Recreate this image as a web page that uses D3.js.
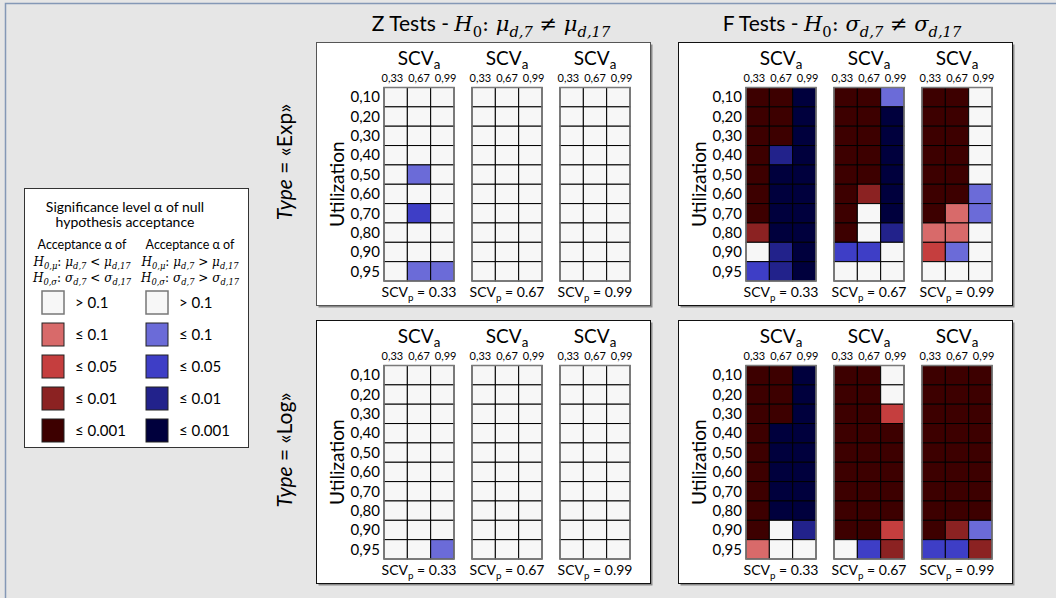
<!DOCTYPE html>
<html>
<head>
<meta charset="utf-8">
<script src="https://cdn.jsdelivr.net/npm/d3@7"></script>
<style>
  body { margin: 0; background: #e6e6e6; }
  svg { display: block; font-family: Lato, "Open Sans", sans-serif; }
</style>
</head>
<body>
<div id="wrapper"></div>
<script>
// data
const utilization = ['0,10', '0,20', '0,30', '0,40', '0,50', '0,60', '0,70', '0,80', '0,90', '0,95'];
const scvA = ['0,33', '0,67', '0,99'];
const scvP = ['0.33', '0.67', '0.99'];
const levelLabels = ['> 0.1', '≤ 0.1', '≤ 0.05', '≤ 0.01', '≤ 0.001'];
const redColors = ['#f7f7f7', '#d86a6a', '#c53e3e', '#8b2222', '#3d0000'];
const blueColors = ['#f7f7f7', '#6b6bd8', '#3e3ec6', '#22228b', '#00003d'];

// codes: 0 = > 0.1, +n = red level n, -n = blue level n
const zExp = [
  [[0, 0, 0], [0, 0, 0], [0, 0, 0], [0, 0, 0], [0, -1, 0], [0, 0, 0], [0, -2, 0], [0, 0, 0], [0, 0, 0], [0, -1, -1]],
  [[0, 0, 0], [0, 0, 0], [0, 0, 0], [0, 0, 0], [0, 0, 0], [0, 0, 0], [0, 0, 0], [0, 0, 0], [0, 0, 0], [0, 0, 0]],
  [[0, 0, 0], [0, 0, 0], [0, 0, 0], [0, 0, 0], [0, 0, 0], [0, 0, 0], [0, 0, 0], [0, 0, 0], [0, 0, 0], [0, 0, 0]],
];
const fExp = [
  [[4, 4, -4], [4, 4, -4], [4, 4, -4], [4, -3, -4], [4, -4, -4], [4, -4, -4], [4, -4, -4], [3, -4, -4], [0, -3, -4], [-2, -3, -4]],
  [[4, 4, -1], [4, 4, -4], [4, 4, -4], [4, 4, -4], [4, 4, -4], [4, 3, -4], [4, 0, -4], [4, 0, -3], [-2, -2, 0], [0, 0, 0]],
  [[4, 4, 0], [4, 4, 0], [4, 4, 0], [4, 4, 0], [4, 4, 0], [4, 4, -1], [4, 1, -1], [1, 1, 0], [2, -1, 0], [0, 0, 0]],
];
const zLog = [
  [[0, 0, 0], [0, 0, 0], [0, 0, 0], [0, 0, 0], [0, 0, 0], [0, 0, 0], [0, 0, 0], [0, 0, 0], [0, 0, 0], [0, 0, -1]],
  [[0, 0, 0], [0, 0, 0], [0, 0, 0], [0, 0, 0], [0, 0, 0], [0, 0, 0], [0, 0, 0], [0, 0, 0], [0, 0, 0], [0, 0, 0]],
  [[0, 0, 0], [0, 0, 0], [0, 0, 0], [0, 0, 0], [0, 0, 0], [0, 0, 0], [0, 0, 0], [0, 0, 0], [0, 0, 0], [0, 0, 0]],
];
const fLog = [
  [[4, 4, -4], [4, 4, -4], [4, 4, -4], [4, -4, -4], [4, -4, -4], [4, -4, -4], [4, -4, -4], [4, -4, -4], [4, 0, -3], [1, 0, 0]],
  [[4, 4, 0], [4, 4, 0], [4, 4, 2], [4, 4, 4], [4, 4, 4], [4, 4, 4], [4, 4, 4], [4, 4, 4], [4, 4, 2], [0, -2, 3]],
  [[4, 4, 4], [4, 4, 4], [4, 4, 4], [4, 4, 4], [4, 4, 4], [4, 4, 4], [4, 4, 4], [4, 4, 4], [4, 3, -1], [-2, -2, 3]],
];

const colorOf = code => code >= 0 ? redColors[code] : blueColors[-code];

const width = 1056, height = 598;
const sansFont = 'Lato, "Open Sans", sans-serif';
const mathFont = '"DejaVu Serif", "Liberation Serif", serif';

const svg = d3.select('#wrapper').append('svg')
  .attr('width', width)
  .attr('height', height);

svg.append('rect').attr('width', width).attr('height', height).attr('fill', '#e6e6e6');
svg.append('path')
  .attr('d', `M5.5,${height} V3.5 H${width}`)
  .attr('fill', 'none')
  .attr('stroke', '#8498b6')
  .attr('stroke-width', 1.5);

// rich text helper: parts = [text, style] ; 'n' sans, 'm' math italic, 'u' upright, 's' subscript
function richText(g, x, y, parts, size, subShift) {
  const shift = size * (subShift || 0.3);
  const t = g.append('text')
    .attr('x', x).attr('y', y)
    .attr('text-anchor', 'middle')
    .style('font-size', size + 'px');
  let inSub = false;
  parts.forEach(([txt, st]) => {
    const sp = t.append('tspan').text(txt);
    const sub = st.indexOf('s') >= 0;
    if (sub && !inSub) sp.attr('dy', shift);
    if (!sub && inSub) sp.attr('dy', -shift);
    inSub = sub;
    sp.style('font-size', (sub ? size * 0.7 : size) + 'px');
    if (st[0] === 'm') {
      sp.style('font-family', mathFont);
      if (st.indexOf('u') < 0) sp.style('font-style', 'italic');
    } else {
      sp.style('font-family', sansFont);
    }
  });
  return t;
}

// titles
richText(svg, 491, 31, [['Z Tests - ', 'n'], ['H', 'm'], ['0', 'mus'], [': ', 'mu'], ['μ', 'm'], ['d,7', 'ms'],
  [' ≠ ', 'mu'], ['μ', 'm'], ['d,17', 'ms']], 21);
richText(svg, 842, 31, [['F Tests - ', 'n'], ['H', 'm'], ['0', 'mus'], [': ', 'mu'], ['σ', 'm'], ['d,7', 'ms'],
  [' ≠ ', 'mu'], ['σ', 'm'], ['d,17', 'ms']], 21);

// type labels
[['Exp', 162], ['Log', 450]].forEach(([name, cy]) => {
  const t = svg.append('text')
    .attr('transform', `translate(292,${cy}) rotate(-90)`)
    .attr('text-anchor', 'middle')
    .style('font-size', '21px');
  t.append('tspan').style('font-style', 'italic').text('Type');
  t.append('tspan').text(' = «' + name + '»');
});

// panels
const panels = [
  { data: zExp, x: 316, y: 42, border: '#555' },
  { data: fExp, x: 678, y: 42, border: '#111' },
  { data: zLog, x: 316, y: 320, border: '#111' },
  { data: fLog, x: 678, y: 320, border: '#111' },
];
const panelW = 334, panelH = 263;
const gridW = 70, gridH = 193.5;
const gridOffsets = [68, 156, 244];

const xScale = d3.scaleBand().domain(scvA).range([0, gridW]);
const xLabelScale = d3.scaleBand().domain(scvA).range([-5, gridW + 5]);
const yScale = d3.scaleBand().domain(utilization).range([0, gridH]);

panels.forEach(p => {
  const pg = svg.append('g').attr('transform', `translate(${p.x},${p.y})`);
  pg.append('rect')
    .attr('x', 2.5).attr('y', 2.5)
    .attr('width', panelW).attr('height', panelH)
    .attr('fill', '#8a8a8a');
  pg.append('rect')
    .attr('x', 0.5).attr('y', 0.5)
    .attr('width', panelW).attr('height', panelH)
    .attr('fill', '#fff')
    .attr('stroke', p.border)
    .attr('stroke-width', 1);

  const gridTop = 45.5;
  // utilization axis label
  pg.append('text')
    .attr('transform', `translate(28,${gridTop + gridH / 2}) rotate(-90)`)
    .attr('text-anchor', 'middle')
    .style('font-size', '19px')
    .text('Utilization');

  p.data.forEach((grid, gi) => {
    const gx = gridOffsets[gi];
    const g = pg.append('g').attr('transform', `translate(${gx},${gridTop})`);

    // row labels only for first grid
    if (gi === 0) {
      g.selectAll('.rowLabel')
        .data(utilization)
        .join('text')
        .attr('class', 'rowLabel')
        .attr('x', -4)
        .attr('y', d => yScale(d) + yScale.bandwidth() / 2)
        .attr('dy', '0.35em')
        .attr('text-anchor', 'end')
        .style('font-size', '15px')
        .text(d => d);
    }

    // SCVa header
    richText(g, gridW / 2, -23, [['SCV', 'n'], ['a', 'ns']], 19, 0.22);
    g.selectAll('.colLabel')
      .data(scvA)
      .join('text')
      .attr('class', 'colLabel')
      .attr('x', d => xLabelScale(d) + xLabelScale.bandwidth() / 2)
      .attr('y', -6)
      .attr('text-anchor', 'middle')
      .style('font-size', '11px')
      .text(d => d);

    const cells = [];
    grid.forEach((row, ri) => row.forEach((code, ci) => {
      cells.push({ u: utilization[ri], a: scvA[ci], code });
    }));
    g.selectAll('.cell')
      .data(cells)
      .join('rect')
      .attr('class', 'cell')
      .attr('x', d => xScale(d.a))
      .attr('y', d => yScale(d.u))
      .attr('width', xScale.bandwidth())
      .attr('height', yScale.bandwidth())
      .attr('fill', d => colorOf(d.code))
      .attr('stroke', '#000')
      .attr('stroke-width', 1);
    g.append('rect')
      .attr('width', gridW).attr('height', gridH)
      .attr('fill', 'none')
      .attr('stroke', '#7a7a7a')
      .attr('stroke-width', 1.5);

    // SCVp footer
    richText(g, gridW / 2, gridH + 16, [['SCV', 'n'], ['p', 'ns'], [' = ' + scvP[gi], 'n']], 14);
  });
});

// legend
const lg = svg.append('g').attr('transform', 'translate(24,188)');
lg.append('rect')
  .attr('x', 0.5).attr('y', 0.5)
  .attr('width', 224).attr('height', 259)
  .attr('fill', '#fff')
  .attr('stroke', '#333');
lg.append('text').attr('x', 101).attr('y', 24).attr('text-anchor', 'middle')
  .style('font-size', '14px').text('Significance level α of null');
lg.append('text').attr('x', 101).attr('y', 39).attr('text-anchor', 'middle')
  .style('font-size', '14px').text('hypothesis acceptance');

const legCols = [
  { cx: 58, sx: 18, colors: redColors, op: '<' },
  { cx: 166, sx: 122, colors: blueColors, op: '>' },
];
legCols.forEach(c => {
  lg.append('text').attr('x', c.cx).attr('y', 61).attr('text-anchor', 'middle')
    .style('font-size', '12.5px').text('Acceptance α of');
  richText(lg, c.cx, 78, [['H', 'm'], ['0,μ', 'ms'], [': ', 'mu'], ['μ', 'm'], ['d,7', 'ms'],
    [' ' + c.op + ' ', 'mu'], ['μ', 'm'], ['d,17', 'ms']], 12, 0.25);
  richText(lg, c.cx, 94, [['H', 'm'], ['0,σ', 'ms'], [': ', 'mu'], ['σ', 'm'], ['d,7', 'ms'],
    [' ' + c.op + ' ', 'mu'], ['σ', 'm'], ['d,17', 'ms']], 12, 0.25);

  const items = levelLabels.map((l, i) => ({ l, color: c.colors[i], i }));
  const rowY = d3.scaleBand().domain(d3.range(levelLabels.length)).range([99, 259]);
  lg.selectAll(null)
    .data(items)
    .join('rect')
    .attr('x', c.sx)
    .attr('y', d => rowY(d.i) + 4)
    .attr('width', 22)
    .attr('height', 23)
    .attr('fill', d => d.color)
    .attr('stroke', d => d.i === 0 ? '#777' : '#222')
    .attr('stroke-width', d => d.i === 0 ? 1.5 : 1);
  lg.selectAll(null)
    .data(items)
    .join('text')
    .attr('x', c.sx + 33)
    .attr('y', d => rowY(d.i) + 16)
    .attr('dy', '0.35em')
    .style('font-size', '15px')
    .text(d => d.l);
});
</script>
</body>
</html>
